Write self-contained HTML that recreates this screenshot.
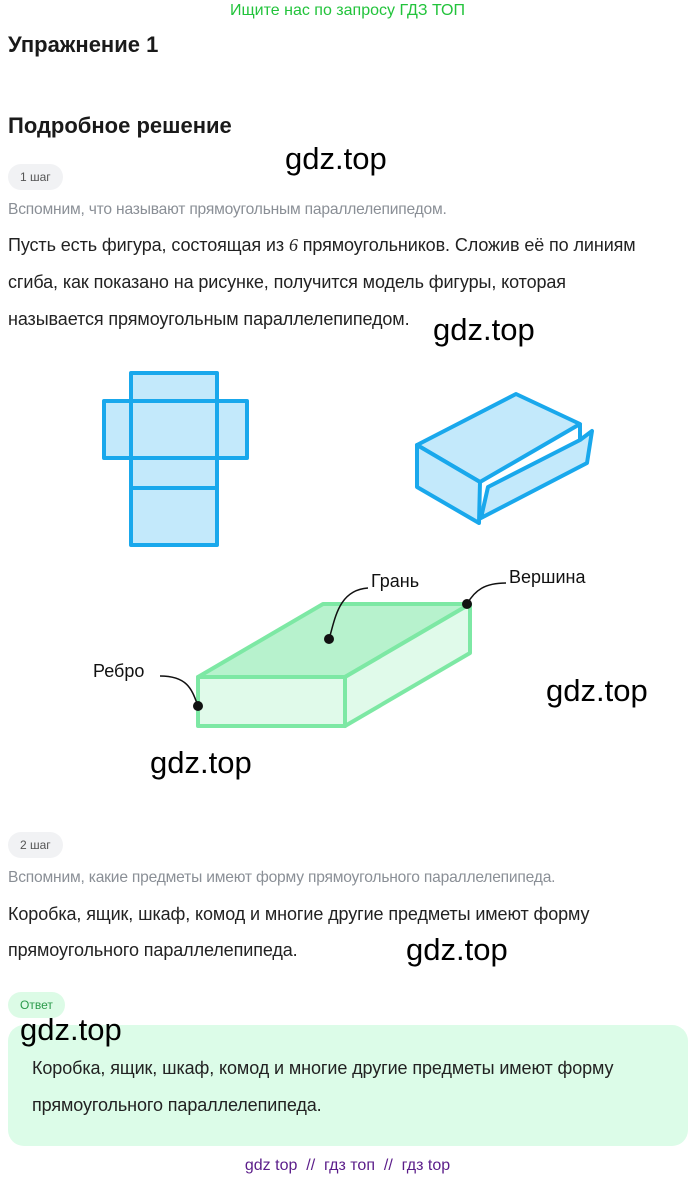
<!DOCTYPE html>
<html><head><meta charset="utf-8"><style>
body{margin:0;width:695px;height:1182px;background:#fff;position:relative;font-family:"Liberation Sans","Noto Sans CJK SC",sans-serif;color:#1a1a1a;overflow:hidden}
.a{position:absolute;white-space:nowrap}
.pill{position:absolute;background:#f1f2f4;border-radius:14px;font-size:12px;color:#555;padding:0 12px;height:26px;line-height:26px}
.wm{position:absolute;font-size:31px;color:#000;white-space:nowrap}
.t{font-size:18px;color:#222;letter-spacing:-0.1px}
.g{font-size:15.6px;color:#8a8f96;letter-spacing:-0.2px}
</style></head><body>
<div class="a" style="left:0;width:695px;text-align:center;top:2px;font-size:16px;color:#22c33b">Ищите нас по запросу ГДЗ ТОП</div>
<div class="a" style="left:8px;top:32px;font-size:22px;font-weight:bold">Упражнение 1</div>
<div class="a" style="left:8px;top:113px;font-size:22px;font-weight:bold">Подробное решение</div>
<div class="wm" style="left:285px;top:141px">gdz.top</div>
<div class="pill" style="left:8px;top:164px">1 шаг</div>
<div class="a g" style="left:8px;top:201px">Вспомним, что называют прямоугольным параллелепипедом.</div>
<div class="a t" style="left:8px;top:235px">Пусть есть фигура, состоящая из <i style="font-family:'Liberation Serif'">6</i> прямоугольников. Сложив её по линиям</div>
<div class="a t" style="left:8px;top:272px">сгиба, как показано на рисунке, получится модель фигуры, которая</div>
<div class="a t" style="left:8px;top:309px">называется прямоугольным параллелепипедом.</div>
<div class="wm" style="left:433px;top:312px">gdz.top</div>
<svg class="a" style="left:0;top:0" width="695" height="800">
<g fill="#c3e9fb" stroke="#19a8ec" stroke-width="4" stroke-linejoin="round">
<rect x="131" y="373" width="86" height="172"/>
<rect x="104" y="401" width="143" height="57"/>
<line x1="131" y1="488" x2="217" y2="488"/>
<line x1="131" y1="401" x2="131" y2="458"/><line x1="217" y1="401" x2="217" y2="458"/>
<polygon points="417,445 516,394 580,424 480,482"/>
<polygon points="417,445 480,482 479,523 417,487"/>
<polygon points="592,431 587,463 481,518 488,487 580,440"/>
<line x1="580" y1="424" x2="580" y2="440"/>
</g>
<g stroke="#7de8a4" stroke-width="4" stroke-linejoin="round">
<polygon points="198,677 323,604 470,604 345,677" fill="#b7f2cd"/>
<polygon points="198,677 345,677 345,726 198,726" fill="#e0faea"/>
<polygon points="345,677 470,604 470,653 345,726" fill="#e0faea"/>
</g>
<g fill="none" stroke="#111" stroke-width="1.5">
<path d="M329,639 C335,620 338,590 368,588"/>
<path d="M467,604 C475,590 485,583 506,583"/>
<path d="M198,706 C192,690 188,676 160,676"/>
</g>
<g fill="#111"><circle cx="329" cy="639" r="5"/><circle cx="467" cy="604" r="5"/><circle cx="198" cy="706" r="5"/></g>
<text x="371" y="587" font-size="18" font-family="Liberation Sans" fill="#111">Грань</text>
<text x="509" y="583" font-size="18" font-family="Liberation Sans" fill="#111">Вершина</text>
<text x="93" y="677" font-size="18" font-family="Liberation Sans" fill="#111">Ребро</text>
</svg>
<div class="wm" style="left:546px;top:673px">gdz.top</div>
<div class="wm" style="left:150px;top:745px">gdz.top</div>
<div class="pill" style="left:8px;top:832px">2 шаг</div>
<div class="a g" style="left:8px;top:869px">Вспомним, какие предметы имеют форму прямоугольного параллелепипеда.</div>
<div class="a t" style="left:8px;top:904px">Коробка, ящик, шкаф, комод и многие другие предметы имеют форму</div>
<div class="a t" style="left:8px;top:940px">прямоугольного параллелепипеда.</div>
<div class="wm" style="left:406px;top:932px">gdz.top</div>
<div class="pill" style="left:8px;top:992px;background:#dcfbe6;color:#2a9a4a">Ответ</div>
<div class="a" style="left:8px;top:1025px;width:680px;height:121px;background:#dcfce8;border-radius:16px"></div>
<div class="wm" style="left:20px;top:1012px">gdz.top</div>
<div class="a t" style="left:32px;top:1058px">Коробка, ящик, шкаф, комод и многие другие предметы имеют форму</div>
<div class="a t" style="left:32px;top:1095px">прямоугольного параллелепипеда.</div>
<div class="a" style="left:0;width:695px;text-align:center;top:1157px;font-size:16px;color:#5b1d8a">gdz top &nbsp;// &nbsp;гдз топ &nbsp;// &nbsp;гдз top</div>
</body></html>
